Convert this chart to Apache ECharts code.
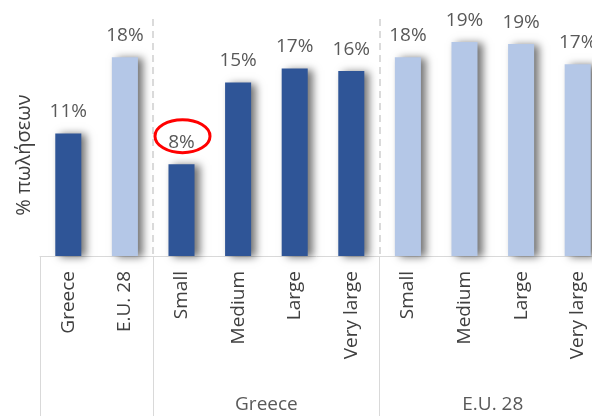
<!DOCTYPE html>
<html>
<head>
<meta charset="utf-8">
<script src="https://cdn.jsdelivr.net/npm/echarts@6/dist/echarts.min.js"></script>
<style>html,body{margin:0;padding:0;background:#fff}#c{width:592px;height:416px}</style>
</head>
<body>
<div id="c"></div>
<script>
const categories = ['Greece', 'E.U. 28', 'Small', 'Medium', 'Large', 'Very large', 'Small', 'Medium', 'Large', 'Very large'];
const values = [10.86, 17.61, 8.14, 15.37, 16.61, 16.40, 17.61, 18.96, 18.79, 16.99];
const region = ['GR', 'EU', 'GR', 'GR', 'GR', 'GR', 'EU', 'EU', 'EU', 'EU'];
const groupNames = ['', 'Greece', 'E.U. 28'];
const groupSizes = [2, 4, 4];
const yAxisTitle = '% πωλήσεων';
const highlightIndex = 2;

const colors = { GR: '#2F5597', EU: '#B4C7E7' };
const FONT = 'Open Sans';

// boundaries and group label slots (boundary indexes 0..n)
const boundaryLabels = new Array(categories.length + 1).fill('');
const groupBoundaries = new Set();
let acc = 0;
groupSizes.forEach((s, i) => {
  groupBoundaries.add(acc);
  const mid = acc + s / 2;
  if (Number.isInteger(mid)) boundaryLabels[mid] = groupNames[i];
  acc += s;
});
const dashedBoundaries = new Set([...groupBoundaries].filter(b => b > 0));

const chart = echarts.init(document.getElementById('c'), null, { renderer: 'canvas' });
chart.setOption({
  animation: false,
  backgroundColor: '#ffffff',
  grid: { left: 40, width: 566, top: 19, height: 237, containLabel: false, outerBoundsMode: 'none' },
  xAxis: [
    {
      type: 'category',
      data: categories,
      axisLine: { show: true, lineStyle: { color: '#d9d9d9', width: 1 } },
      axisTick: { show: false },
      axisLabel: {
        interval: 0, rotate: 90, margin: 15,
        fontFamily: FONT, fontSize: 19, color: '#404040'
      },
      splitLine: { show: false }
    },
    {
      type: 'category',
      boundaryGap: false,
      data: boundaryLabels,
      position: 'bottom',
      axisLine: { show: false },
      axisTick: {
        show: true, length: 170, inside: false,
        interval: (idx) => groupBoundaries.has(idx),
        lineStyle: { color: '#d9d9d9', width: 1 }
      },
      splitLine: {
        show: true,
        interval: (idx) => dashedBoundaries.has(idx),
        lineStyle: { color: '#d0d0d0', width: 1.5, type: [7, 5] }
      },
      axisLabel: {
        interval: 0, margin: 139,
        fontFamily: FONT, fontSize: 19, color: '#595959'
      }
    }
  ],
  yAxis: {
    type: 'value', min: 0, max: 21,
    show: false,
    splitLine: { show: false }
  },
  series: [{
    type: 'bar',
    xAxisIndex: 0,
    barWidth: '46%',
    data: values.map((v, i) => ({
      value: v,
      itemStyle: { color: colors[region[i]] }
    })),
    itemStyle: {
      shadowColor: 'rgba(0,0,0,0.55)',
      shadowBlur: 8,
      shadowOffsetX: 5,
      shadowOffsetY: 1
    },
    label: {
      show: true, position: 'top', distance: 12,
      fontFamily: FONT, fontSize: 19, color: '#595959',
      formatter: (p) => Math.round(p.value) + '%'
    }
  }]
});

const barTop = chart.convertToPixel({ xAxisIndex: 0, yAxisIndex: 0 }, [highlightIndex, values[highlightIndex]]);
chart.setOption({
  graphic: [
    {
      type: 'text',
      x: 24, y: 155,
      rotation: Math.PI / 2,
      style: {
        text: yAxisTitle,
        fontFamily: FONT, fontSize: 20, fill: '#404040',
        textAlign: 'center', textVerticalAlign: 'middle'
      }
    },
    {
      type: 'ellipse',
      shape: { cx: barTop[0] + 1, cy: barTop[1] - 28, rx: 27.5, ry: 16.5 },
      style: { fill: 'none', stroke: '#ff0000', lineWidth: 3 },
      z: 100
    }
  ]
});
</script>
</body>
</html>
